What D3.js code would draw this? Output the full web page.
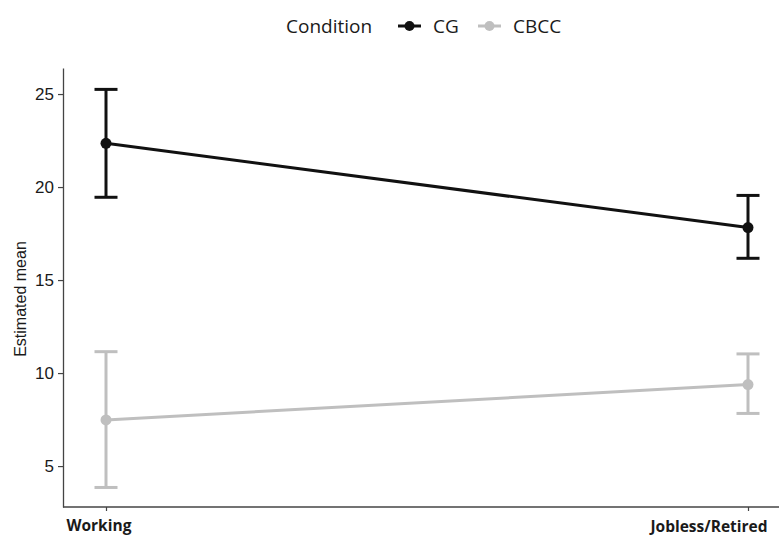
<!DOCTYPE html>
<html>
<head>
<meta charset="utf-8">
<script src="https://cdn.jsdelivr.net/npm/d3@7"></script>
<style>
  html, body { margin: 0; padding: 0; background: #fff; }
  svg { display: block; }
</style>
</head>
<body>
<svg id="chart" width="781" height="536"></svg>
<script>
// Estimated means with confidence intervals by employment status and condition
const categories = ["Working", "Jobless/Retired"];
const conditions = ["CG", "CBCC"];
const colors = ["#111111", "#bfbfbf"];
const cgMean = [22.35, 17.82];
const cgLow = [19.45, 16.17];
const cgHigh = [25.25, 19.55];
const cbccMean = [7.48, 9.38];
const cbccLow = [3.85, 7.83];
const cbccHigh = [11.15, 11.03];
const yTicks = [5, 10, 15, 20, 25];

const seriesData = [
  { name: conditions[0], color: colors[0], mean: cgMean, low: cgLow, high: cgHigh },
  { name: conditions[1], color: colors[1], mean: cbccMean, low: cbccLow, high: cbccHigh }
];

const svg = d3.select("#chart");
const plotLeft = 63, plotRight = 779, plotTop = 68, plotBottom = 507;
const sansFont = "'Liberation Sans', Arial, sans-serif";
const uiFont = "'Open Sans', 'Noto Sans', sans-serif";

const x = d3.scalePoint().domain(categories).range([106, 748]);
const y = d3.scaleLinear().domain([2.8, 26.4]).range([plotBottom, plotTop]);

// Y axis
const yAxis = svg.append("g")
  .attr("transform", `translate(${plotLeft},0)`)
  .call(d3.axisLeft(y).tickValues(yTicks).tickSize(5).tickPadding(4).tickSizeOuter(0));
yAxis.select(".domain").attr("stroke", "#444").attr("stroke-width", 1.3);
yAxis.selectAll(".tick line").attr("stroke", "#444").attr("stroke-width", 1.2);
yAxis.selectAll(".tick text")
  .style("font-family", sansFont)
  .style("font-size", "17px").attr("fill", "#1a1a1a");

// X axis; the outer labels hug the ends of the axis line
const xAxis = svg.append("g")
  .attr("transform", `translate(0,${plotBottom})`)
  .call(d3.axisBottom(x).tickSize(4).tickPadding(6).tickSizeOuter(0));
xAxis.select(".domain").attr("d", `M${plotLeft},0H${plotRight}`)
  .attr("stroke", "#444").attr("stroke-width", 1.3);
xAxis.selectAll(".tick line").attr("stroke", "#444").attr("stroke-width", 1.2);
xAxis.selectAll(".tick text")
  .style("font-family", uiFont)
  .style("font-weight", "bold")
  .style("font-size", "15.5px").attr("fill", "#1a1a1a")
  .attr("dy", null)
  .attr("y", (d, i) => i === 0 ? 23.5 : 25)
  .attr("text-anchor", (d, i) => i === 0 ? "start" : "end")
  .attr("x", (d, i) => i === 0 ? 66 - x(d) : 767 - x(d));

// Y axis title
svg.append("text")
  .attr("transform", `translate(26,299) rotate(-90)`)
  .attr("text-anchor", "middle")
  .style("font-family", sansFont)
  .style("font-size", "16px").attr("fill", "#1a1a1a")
  .text("Estimated mean");

// Series: lines, error bars, points
const capHalf = 11.5;
seriesData.forEach(s => {
  const g = svg.append("g");
  const line = d3.line().x((d, i) => x(categories[i])).y(d => y(d));
  g.append("path").datum(s.mean).attr("d", line)
    .attr("fill", "none").attr("stroke", s.color).attr("stroke-width", 3);
  categories.forEach((c, i) => {
    const cx = x(c);
    g.append("line").attr("x1", cx).attr("x2", cx)
      .attr("y1", y(s.low[i])).attr("y2", y(s.high[i]))
      .attr("stroke", s.color).attr("stroke-width", 3);
    [s.low[i], s.high[i]].forEach(v => {
      g.append("line").attr("x1", cx - capHalf).attr("x2", cx + capHalf)
        .attr("y1", y(v)).attr("y2", y(v))
        .attr("stroke", s.color).attr("stroke-width", 3);
    });
    g.append("circle").attr("cx", cx).attr("cy", y(s.mean[i])).attr("r", 5.5)
      .attr("fill", s.color);
  });
});

// Legend
const legend = svg.append("g").style("font-family", uiFont)
  .style("font-size", "19px").attr("fill", "#1a1a1a");
legend.append("text").attr("x", 286).attr("y", 33).text("Condition");
const legendPos = [{ kx: 398, tx: 433 }, { kx: 478, tx: 513 }];
seriesData.forEach((s, i) => {
  const p = legendPos[i];
  legend.append("line").attr("x1", p.kx).attr("x2", p.kx + 23)
    .attr("y1", 26).attr("y2", 26).attr("stroke", s.color).attr("stroke-width", 3);
  legend.append("circle").attr("cx", p.kx + 11.5).attr("cy", 26).attr("r", 5).attr("fill", s.color);
  legend.append("text").attr("x", p.tx).attr("y", 33).text(s.name);
});
</script>
</body>
</html>
